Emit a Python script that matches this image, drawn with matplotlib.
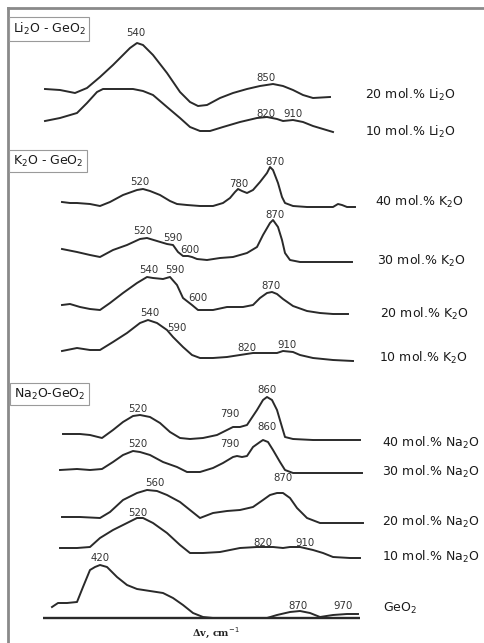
import matplotlib
matplotlib.use("Agg")
import matplotlib.pyplot as plt

plt.rcParams['font.family'] = ['DejaVu Sans']
plt.rcParams['mathtext.fontset'] = 'dejavusans'

# spectra (x, y in picture units, y grows downwards)
li20 = [(45, 89), (60, 90), (75, 93), (87, 88), (100, 77), (113, 65), (120, 58), (130, 48), (137, 43),
        (143, 45), (153, 55), (167, 73), (180, 92), (190, 102), (198, 106), (207, 105), (220, 98),
        (233, 93), (247, 89), (260, 86), (273, 84), (283, 86), (293, 90), (303, 95), (313, 98), (330, 97)]
li10 = [(45, 121), (60, 118), (77, 113), (87, 103), (97, 92), (103, 89), (117, 89), (133, 89), (143, 91),
        (153, 95), (167, 107), (180, 118), (190, 127), (200, 131), (210, 131), (223, 127), (240, 122),
        (257, 118), (267, 117), (277, 119), (283, 121), (293, 120), (303, 122), (313, 126), (323, 129), (333, 132)]

k40 = [(62, 202), (70, 203), (77, 203), (90, 204), (100, 206), (110, 202), (123, 195), (137, 190), (143, 189),
       (150, 191), (160, 195), (170, 201), (177, 204), (187, 205), (200, 206), (213, 206), (223, 203),
       (230, 198), (235, 192), (238, 189), (242, 191), (247, 193), (253, 190), (260, 182), (267, 173),
       (270, 167), (273, 170), (278, 183), (282, 197), (285, 203), (293, 206), (307, 207), (320, 207),
       (333, 207), (338, 204), (342, 205), (347, 207), (355, 207)]
k30 = [(62, 249), (77, 252), (90, 255), (100, 257), (113, 250), (127, 245), (140, 239), (147, 238),
       (157, 241), (167, 244), (173, 245), (178, 252), (183, 256), (188, 256), (192, 257), (197, 259),
       (207, 260), (220, 258), (233, 257), (247, 253), (257, 247), (263, 235), (270, 223), (273, 220),
       (278, 227), (282, 240), (285, 253), (290, 260), (300, 262), (317, 262), (333, 262), (352, 262)]
k20 = [(62, 305), (70, 304), (80, 307), (90, 309), (100, 310), (110, 303), (123, 293), (137, 283),
       (147, 277), (153, 278), (163, 279), (170, 277), (177, 285), (183, 298), (192, 305), (198, 310),
       (213, 310), (227, 307), (233, 307), (243, 307), (253, 305), (260, 298), (267, 293), (272, 292),
       (277, 294), (283, 299), (293, 306), (307, 311), (320, 313), (333, 314), (348, 314)]
k10 = [(62, 351), (77, 348), (90, 350), (100, 350), (113, 342), (127, 333), (140, 323), (148, 320),
       (157, 323), (167, 330), (173, 337), (183, 347), (192, 355), (200, 358), (213, 358), (227, 357),
       (240, 355), (253, 353), (267, 353), (277, 353), (283, 351), (293, 352), (300, 355), (313, 358),
       (333, 360), (353, 361)]

na40 = [(63, 434), (80, 434), (90, 435), (102, 438), (113, 430), (123, 422), (133, 416), (140, 415),
        (150, 417), (160, 423), (170, 432), (180, 438), (190, 439), (203, 438), (217, 435), (227, 430),
        (233, 427), (240, 427), (247, 425), (257, 410), (263, 400), (267, 397), (272, 400), (277, 410),
        (282, 427), (285, 437), (293, 439), (313, 440), (333, 440), (360, 440)]
na30 = [(60, 470), (77, 469), (90, 470), (102, 469), (113, 462), (123, 455), (133, 451), (140, 452),
        (150, 455), (163, 462), (177, 467), (187, 472), (200, 472), (213, 468), (223, 463), (233, 457),
        (237, 456), (242, 457), (247, 456), (253, 447), (260, 442), (263, 440), (268, 442), (273, 450),
        (280, 462), (285, 470), (293, 473), (313, 473), (333, 473), (362, 473)]
na20 = [(62, 517), (80, 517), (100, 518), (110, 512), (123, 500), (137, 493), (147, 490), (157, 491),
        (167, 495), (180, 502), (190, 510), (200, 518), (213, 513), (227, 511), (240, 510), (253, 507),
        (263, 500), (270, 495), (277, 493), (283, 493), (290, 498), (297, 508), (307, 518), (320, 523),
        (333, 523), (363, 523)]
na10 = [(60, 548), (77, 548), (90, 547), (100, 538), (113, 530), (127, 523), (137, 518), (143, 518),
        (153, 523), (167, 533), (180, 545), (190, 553), (203, 553), (220, 552), (240, 548), (257, 547),
        (273, 547), (283, 548), (290, 547), (300, 547), (313, 550), (323, 553), (333, 557), (350, 558),
        (360, 558)]
geo2 = [(52, 607), (58, 603), (67, 603), (77, 602), (83, 587), (90, 570), (95, 567), (100, 565),
        (107, 567), (117, 577), (127, 585), (137, 589), (150, 591), (163, 593), (173, 598), (183, 605),
        (193, 613), (203, 617), (213, 618), (233, 618), (253, 618), (267, 618), (277, 615), (290, 612),
        (300, 611), (310, 613), (320, 617), (333, 615), (347, 614), (358, 614)]
base_y = 618
base_x = (43, 360)

# curve labels (text, x, y)
series_labels = [
    ("20 mol.% Li$_2$O", 365, 95), ("10 mol.% Li$_2$O", 365, 132),
    ("40 mol.% K$_2$O", 375, 202), ("30 mol.% K$_2$O", 377, 261),
    ("20 mol.% K$_2$O", 380, 314), ("10 mol.% K$_2$O", 379, 358),
    ("40 mol.% Na$_2$O", 382, 443), ("30 mol.% Na$_2$O", 382, 472),
    ("20 mol.% Na$_2$O", 382, 522), ("10 mol.% Na$_2$O", 382, 557),
    ("GeO$_2$", 383, 608),
]
# peak positions (cm-1) written over the curves
peak_labels = [
    ("540", 136, 33), ("850", 266, 78), ("820", 266, 114), ("910", 293, 114),
    ("520", 140, 182), ("780", 239, 184), ("870", 275, 162),
    ("520", 143, 231), ("590", 173, 238), ("600", 190, 250), ("870", 275, 215),
    ("540", 149, 270), ("590", 175, 270), ("600", 198, 298), ("870", 271, 286),
    ("540", 150, 313), ("590", 177, 328), ("820", 247, 348), ("910", 287, 345),
    ("520", 138, 409), ("790", 230, 414), ("860", 267, 390),
    ("520", 138, 444), ("790", 230, 444), ("860", 267, 427),
    ("560", 155, 483), ("870", 283, 478),
    ("520", 138, 513), ("820", 263, 543), ("910", 305, 543),
    ("420", 100, 558), ("870", 298, 606), ("970", 343, 606),
]
panel_titles = [("Li$_2$O - GeO$_2$", 13, 29), ("K$_2$O - GeO$_2$", 13, 161), ("Na$_2$O-GeO$_2$", 14, 394)]

fig = plt.figure(figsize=(4.84, 6.43), dpi=100)
ax = fig.add_axes([8 / 484, 0, 1 - 8 / 484, 1 - 8 / 643])
ax.set_xlim(8, 484)
ax.set_ylim(643, 8)
for side in ['right', 'bottom']:
    ax.spines[side].set_visible(False)
for side in ['left', 'top']:
    ax.spines[side].set_color('#8a8a8a')
    ax.spines[side].set_linewidth(2)
ax.set_xticks([])
ax.set_yticks([])

for curve in [li20, li10, k40, k30, k20, k10, na40, na30, na20, na10, geo2]:
    xs = [p[0] for p in curve]
    ys = [p[1] for p in curve]
    ax.plot(xs, ys, color='#2a2a2a', lw=1.4, solid_joinstyle='round')

ax.hlines(base_y, base_x[0], base_x[1], color='#2a2a2a', lw=1.7)

for txt, x, y in series_labels:
    ax.text(x, y, txt, fontsize=9, color='#1a1a1a', va='center', ha='left')
for txt, x, y in peak_labels:
    ax.text(x, y, txt, fontsize=7.3, color='#333333', va='center', ha='center')
for txt, x, y in panel_titles:
    ax.text(x, y, txt, fontsize=9, color='#1a1a1a', va='center', ha='left',
            bbox=dict(boxstyle='square,pad=0.3', fc='white', ec='#9a9a9a', lw=0.8))

ax.text(216, 633, "Δv, cm$^{-1}$", fontsize=7, family='DejaVu Serif', fontweight='bold',
        ha='center', va='center', color='#222222')

fig.savefig('out.png', dpi=100)
